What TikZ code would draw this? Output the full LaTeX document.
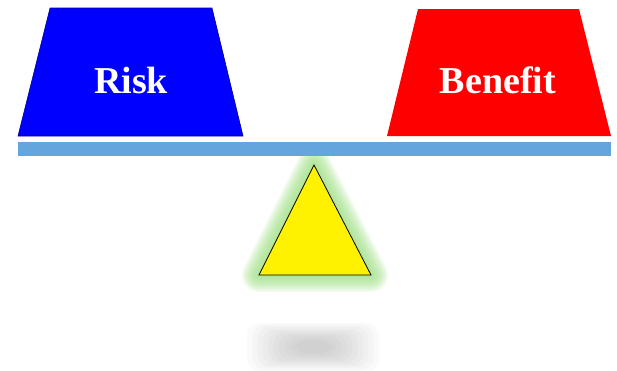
\documentclass[tikz,border=0pt]{standalone}
\usepackage{fontspec}
\setmainfont{Liberation Serif}
\usepackage{tikz}
\definecolor{beamblue}{RGB}{100,165,221}
\definecolor{glowgreen}{RGB}{150,220,120}
\def\riskpan{(50,8) -- (212,8) -- (243,136) -- (18,136) -- cycle}
\def\benefitpan{(418,9) -- (579,9) -- (611,136) -- (387,136) -- cycle}
\def\beam{(18,142) rectangle (611,156)}
\def\fulcrum{(314,165) -- (371,275) -- (259,275) -- cycle}

\begin{document}
\begin{tikzpicture}[x=1pt,y=-1pt]
				\useasboundingbox (0,0) rectangle (617,370);
				
				%blurred shadow under the fulcrum
				\foreach \r in {1,0.92,...,0.2}
					\fill [black, opacity=0.018, rounded corners=12] ({313-66*\r},{347-24*\r}) rectangle ({313+66*\r},{347+24*\r});
				
				%green glow round the fulcrum
				\foreach \w in {34,31,...,4}
					\draw [glowgreen, opacity=0.11, line width=\w, line join=round] \fulcrum;
				\filldraw [fill=yellow, draw=black, line width=0.8] \fulcrum;
				
				\fill [beamblue] \beam;
				
				%the two pans
				\filldraw [fill=blue, draw=blue!50!black, line width=0.6] \riskpan;
				\fill [red] \benefitpan;
				\node [white, font=\fontsize{38}{40}\selectfont\bfseries] (risk) at (131,80) {Risk};
				\node [white, font=\fontsize{38}{40}\selectfont\bfseries] (benefit) at (498,80) {Benefit};
			\end{tikzpicture}
\end{document}
